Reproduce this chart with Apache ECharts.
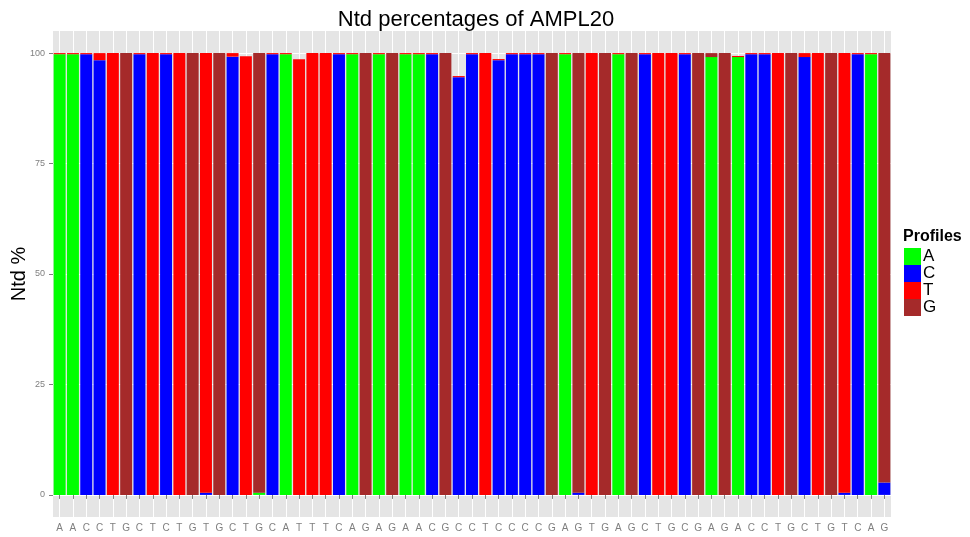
<!DOCTYPE html>
<html><head><meta charset="utf-8">
<script src="https://cdn.jsdelivr.net/npm/echarts@6/dist/echarts.min.js"></script>
<style>html,body{margin:0;padding:0;background:#fff}#c{width:970px;height:537px}</style>
</head><body><div id="c"></div>
<script>
var categories = ['A','A','C','C','T','G','C','T','C','T','G','T','G','C','T','G','C','A','T','T','T','C','A','G','A','G','A','A','C','G','C','C','T','C','C','C','C','G','A','G','T','G','A','G','C','T','G','C','G','A','G','A','C','C','T','G','C','T','G','T','C','A','G'];
var valuesA = [99.75,99.75,0,0,0,0,0,0,0,0,0,0,0,0,0,0.5,0,99.75,0,0,0,0,99.75,0,99.75,0,99.75,99.75,0,0,0,0,0,0,0,0,0,0,99.75,0,0,0,99.75,0,0,0,0,0,0,99.1,0,99.1,0,0,0,0,0,0,0,0,0,99.75,0];
var valuesC = [0,0,99.75,98.4,0,0,99.75,0,99.75,0,0,0.5,0,99.2,0,0,99.75,0,0,0,0,99.75,0,0,0,0,0,0,99.75,0,94.55,99.75,0,98.4,99.75,99.75,99.75,0,0,0.5,0,0,0,0,99.75,0,0,99.75,0,0,0,0,99.75,99.75,0,0,99.1,0,0,0.5,99.75,0,2.8];
var valuesT = [0.25,0.25,0.25,1.6,100,0,0.25,100,0.25,100,0,99.5,0,0.8,99.3,0,0.25,0.25,98.6,100,100,0.25,0.25,0,0.25,0,0.25,0.25,0.25,0,0.25,0.25,100,0.25,0.25,0.25,0.25,0,0.25,0,100,0,0.25,0,0.25,100,100,0.25,0,0,0,0.25,0.25,0.25,100,0,0.9,100,0,99.5,0.25,0.25,0];
var valuesG = [0,0,0,0,0,100,0,0,0,0,100,0,100,0,0,99.5,0,0,0,0,0,0,0,100,0,100,0,0,0,100,0,0,0,0,0,0,0,100,0,99.5,0,100,0,100,0,0,0,0,100,0.9,100,0,0,0,0,100,0,0,100,0,0,0,97.2];
var yTicks = [0,25,50,75,100];
var profiles = ['A','C','T','G'];
var colors = ['#00FF00','#0000FF','#FF0000','#A52A2A'];

var chart = echarts.init(document.getElementById('c'));
var seriesData = [valuesA, valuesC, valuesT, valuesG];
var series = profiles.map(function(p, i){
  return {name:p, type:'bar', stack:'total', data:seriesData[i], barCategoryGap:'10%',
    itemStyle:{color:colors[i]}, emphasis:{disabled:true}, animation:false};
});
chart.setOption({
  animation:false,
  textStyle:{fontFamily:'Liberation Sans, Arial, sans-serif'},
  title:[
    {text:'Ntd percentages of AMPL20', left:471, top:4, textAlign:'center',
     textStyle:{fontSize:22, fontWeight:'normal', color:'#000', fontFamily:'Liberation Sans'}},
    {text:'Profiles', left:903, top:229, padding:0,
     textStyle:{fontSize:16, fontWeight:'bold', color:'#000', fontFamily:'Liberation Sans'}}
  ],
  legend:{orient:'vertical', left:904, top:248, itemWidth:17, itemHeight:17, itemGap:0, padding:0,
    icon:'rect', data:profiles, selectedMode:false,
    textStyle:{fontSize:17, color:'#000', padding:[0,0,0,-3], fontFamily:'Liberation Sans'}},
  grid:{left:53, right:79, top:31, bottom:20, show:true, backgroundColor:'#E5E5E5', borderWidth:0,
    containLabel:false, outerBoundsMode:'none'},
  xAxis:{type:'category', data:categories,
    axisLine:{show:false},
    axisTick:{show:true, alignWithLabel:true, length:4, lineStyle:{color:'#7F7F7F'}},
    axisLabel:{interval:0, fontSize:10, color:'#7F7F7F', margin:6},
    splitLine:{show:true, alignWithLabel:true, interval:0, lineStyle:{color:'#FFFFFF', width:1}}},
  yAxis:{type:'value', min:-5, max:105,
    name:'Ntd %', nameLocation:'middle', nameRotate:90, nameGap:24, nameMoveOverlap:false,
    nameTextStyle:{fontSize:20, color:'#000'},
    axisLine:{show:false},
    axisTick:{show:true, length:4, customValues:yTicks, lineStyle:{color:'#7F7F7F'}},
    axisLabel:{fontSize:9, color:'#7F7F7F', margin:8, customValues:yTicks},
    splitLine:{show:true, lineStyle:{color:'#FFFFFF', width:1}}},
  series:series
});
</script></body></html>
